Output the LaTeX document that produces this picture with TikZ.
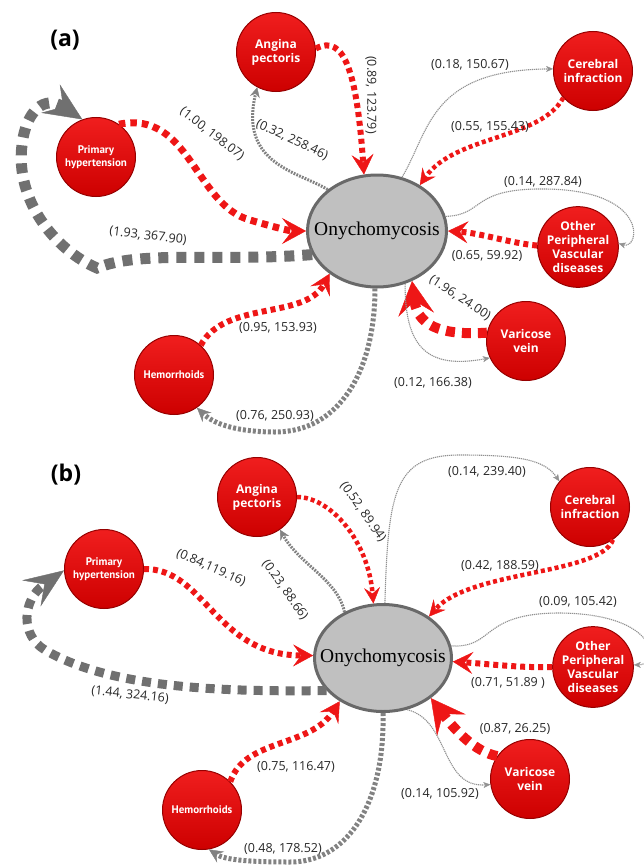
\documentclass[tikz,border=0pt]{standalone}
\usepackage{fontspec}
\setmainfont{Open Sans}
\newfontfamily\onyfont{Liberation Serif}
\newfontfamily\narrowfont{PT Sans}
\usetikzlibrary{arrows.meta,shapes.geometric}
\definecolor{nodetop}{RGB}{240,30,30}
\definecolor{nodebot}{RGB}{205,0,0}
\definecolor{nodeborder}{RGB}{150,0,0}
\definecolor{edgered}{RGB}{238,22,22}
\definecolor{edgegrey}{RGB}{112,112,112}
\definecolor{midgrey}{RGB}{130,130,130}
\definecolor{thingrey}{RGB}{145,145,145}
\definecolor{elfill}{RGB}{192,192,192}
\definecolor{elborder}{RGB}{105,105,105}
\definecolor{labtext}{RGB}{40,40,40}
\tikzset{
  dis/.style={circle, minimum size=79pt, inner sep=0pt, top color=nodetop, bottom color=nodebot,
    draw=nodeborder, line width=1pt, text=white, align=center,
    font=\bfseries\fontsize{12}{14}\selectfont},
  disn/.style={dis, font=\narrowfont\bfseries\fontsize{11}{13}\selectfont},
  ony/.style={ellipse, inner sep=0pt, fill=elfill, draw=elborder, line width=3pt,
    font=\onyfont\fontsize{19.5}{20}\selectfont},
  elab/.style={font=\fontsize{12.5}{13}\selectfont, text=labtext, inner sep=1pt},
  panel/.style={font=\bfseries\fontsize{23}{25}\selectfont, inner sep=0pt},
  redS/.style={draw=edgered, line width=4.5pt, dash pattern=on 4pt off 3pt,
    -{Stealth[length=16pt,width=16pt,inset=6pt,line width=0.4pt]}},
  redM/.style={draw=edgered, line width=6pt, dash pattern=on 5pt off 4pt,
    -{Stealth[length=20pt,width=22pt,inset=8pt,line width=0.4pt]}},
  redL/.style={draw=edgered, line width=7pt, dash pattern=on 6.5pt off 5pt,
    -{Stealth[length=24pt,width=26pt,inset=10pt,line width=0.4pt]}},
  redXL/.style={draw=edgered, line width=10pt, dash pattern=on 9pt off 7pt,
    -{Stealth[length=34pt,width=36pt,inset=14pt,line width=0.4pt]}},
  greyT/.style={draw=thingrey, line width=1.1pt, dash pattern=on 1.2pt off 0.8pt,
    -{Stealth[length=7pt,width=6pt,inset=2pt,line width=0.4pt]}},
  greyS/.style={draw=midgrey, line width=3pt, dash pattern=on 1.8pt off 1.2pt,
    -{Stealth[length=10pt,width=10pt,inset=3.5pt,line width=0.4pt]}},
  greyM/.style={draw=midgrey, line width=5pt, dash pattern=on 3pt off 2pt,
    -{Stealth[length=14pt,width=13pt,inset=5pt,line width=0.4pt]}},
  greyL/.style={draw=edgegrey, line width=9pt, dash pattern=on 9pt off 7pt,
    -{Stealth[length=40pt,width=32pt,inset=16pt,line width=0.4pt]}},
  greyXL/.style={draw=edgegrey, line width=11pt, dash pattern=on 10pt off 8pt,
    -{Stealth[length=38pt,width=34pt,inset=15pt,line width=0.4pt]}},
}
\begin{document}
\begin{tikzpicture}[x=1pt,y=-1pt]
\useasboundingbox[fill=white] (0,0) rectangle (643,867);

% ================= panel (a) =================
\node[panel] (pa) at (65,40) {(a)};
\node[dis] (aang) at (276,52) {Angina\\pectoris};
\node[dis] (acer) at (593,71) {Cerebral\\infraction};
\node[disn] (aph) at (96,157) {Primary\\hypertension};
\node[dis] (aopv) at (578,247) {Other\\Peripheral\\Vascular\\diseases};
\node[dis] (avar) at (526,341) {Varicose\\vein};
\node[disn] (ahem) at (174,375) {Hemorrhoids};
\node[ony, minimum width=139pt, minimum height=112pt] (aony) at (377,231) {\makebox[0pt]{Onychomycosis}};

\draw[redM] (aang.5) .. controls (345,33) and (357,75) .. (aony.103);
\draw[greyS] (aony.140) .. controls (300,172) and (238,165) .. (aang.-118);
\draw[greyT] (aony.65) .. controls (430,130) and (430,70) .. (acer.177);
\draw[redS] (acer.222) .. controls (540,140) and (455,135) .. (aony.47);
\draw[greyT] (aony.12) .. controls (485,215) and (470,188) .. (545,189) .. controls (650,190) and (640,250) .. (aopv.5);
\draw[redM] (aopv.178) .. controls (510,243) and (480,233) .. (aony.0);
\draw[redXL] (avar.168) .. controls (450,335) and (418,330) .. (aony.-55);
\draw[greyT] (aony.-62) .. controls (405,345) and (425,370) .. (avar.205);
\draw[greyM] (aony.-92) .. controls (375,370) and (340,432) .. (275,432) .. controls (240,432) and (215,425) .. (ahem.-55);
\draw[redM] (ahem.48) .. controls (225,300) and (305,320) .. (aony.-138);
\draw[redL] (aph.55) .. controls (190,110) and (195,205) .. (250,220) .. controls (270,226) and (290,231) .. (aony.180);
\draw[greyXL] (aony.200) .. controls (220,262) and (140,250) .. (97,268) .. controls (55,250) and (15,200) .. (22,145) .. controls (26,110) and (45,95) .. (aph.110);

\node[elab, rotate=-90] (la1) at (371,95) {(0.89, 123.79)};
\node[elab, rotate=-25] (la2) at (292,140) {(0.32, 258.46)};
\node[elab] (la3) at (470,65) {(0.18, 150.67)};
\node[elab] (la4) at (490,127) {(0.55, 155.43)};
\node[elab] (la5) at (543,182) {(0.14, 287.84)};
\node[elab] (la6) at (487,256) {(0.65, 59.92)};
\node[elab, rotate=-33] (la7) at (460,298) {(1.96, 24.00)};
\node[elab] (la8) at (433,383) {(0.12, 166.38)};
\node[elab] (la9) at (275,416) {(0.76, 250.93)};
\node[elab] (la10) at (278,328) {(0.95, 153.93)};
\node[elab, rotate=-38] (la11) at (212,134) {(1.00, 198.07)};
\node[elab, rotate=-7] (la12) at (148,236) {(1.93, 367.90)};

% ================= panel (b) =================
\node[panel] (pb) at (66,475) {(b)};
\node[dis] (bang) at (257,497) {Angina\\pectoris};
\node[dis] (bcer) at (590,507) {Cerebral\\infraction};
\node[disn] (bph) at (104,569) {Primary\\hypertension};
\node[dis] (bopv) at (593,667) {Other\\Peripheral\\Vascular\\diseases};
\node[dis] (bvar) at (530,779) {Varicose\\vein};
\node[disn] (bhem) at (202,810) {Hemorrhoids};
\node[ony, minimum width=137pt, minimum height=107pt] (bony) at (383,658) {\makebox[0pt]{Onychomycosis}};

\draw[redS] (bang.0) .. controls (330,497) and (368,540) .. (bony.100);
\draw[greyS] (bony.130) .. controls (338,580) and (300,565) .. (bang.-55);
\draw[greyT] (bony.88) .. controls (388,490) and (395,455) .. (460,455) .. controls (520,455) and (545,460) .. (bcer.140);
\draw[redS] (bcer.-55) .. controls (600,575) and (470,570) .. (bony.42);
\draw[greyT] (bony.10) .. controls (495,648) and (480,613) .. (560,613) .. controls (660,614) and (660,665) .. (bopv.3);
\draw[redM] (bopv.180) .. controls (520,668) and (490,664) .. (bony.-3);
\draw[redXL] (bvar.145) .. controls (475,752) and (455,730) .. (bony.-40);
\draw[greyT] (bony.-65) .. controls (450,720) and (440,788) .. (bvar.188);
\draw[greyM] (bony.-90) .. controls (385,800) and (350,862) .. (290,862) .. controls (250,862) and (225,860) .. (bhem.-80);
\draw[redM] (bhem.45) .. controls (245,738) and (310,748) .. (bony.-135);
\draw[redM] (bph.0) .. controls (205,568) and (215,655) .. (bony.178);
\draw[greyL] (bony.210) .. controls (220,692) and (110,688) .. (45,650) .. controls (20,635) and (22,600) .. (bph.182);

\node[elab, rotate=-55] (lb1) at (363,512) {(0.52, 89.94)};
\node[elab, rotate=-55] (lb2) at (285,590) {(0.23, 88.66)};
\node[elab] (lb3) at (487,472) {(0.14, 239.40)};
\node[elab] (lb4) at (500,566) {(0.42, 188.59)};
\node[elab] (lb5) at (578,602) {(0.09, 105.42)};
\node[elab] (lb6) at (508,683) {(0.71, 51.89 )};
\node[elab] (lb7) at (515,729) {(0.87, 26.25)};
\node[elab] (lb8) at (440,794) {(0.14, 105.92)};
\node[elab] (lb9) at (283,849) {(0.48, 178.52)};
\node[elab] (lb10) at (296,767) {(0.75, 116.47)};
\node[elab, rotate=-24] (lb11) at (211,568) {(0.84,119.16)};
\node[elab, rotate=-6] (lb12) at (130,695) {(1.44, 324.16)};
\end{tikzpicture}
\end{document}
